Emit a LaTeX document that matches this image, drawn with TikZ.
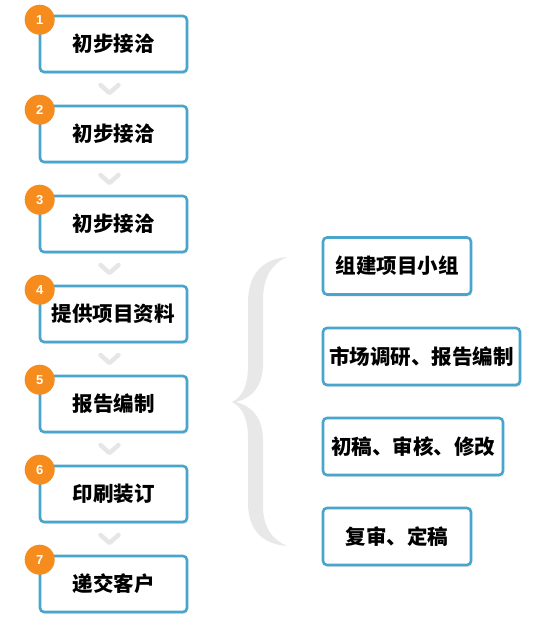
\documentclass[tikz,border=0pt]{standalone}
\usepackage{fontspec}
\newfontfamily\cjk{Noto Sans CJK SC}
\usetikzlibrary{shadows,calc}
\definecolor{boxblue}{RGB}{74,165,205}
\definecolor{numorange}{RGB}{246,140,30}
\definecolor{chev}{RGB}{230,230,230}
\definecolor{bracegray}{RGB}{232,232,232}
\tikzset{
  x=1pt,y=-1pt,
  stepbox/.style={draw=boxblue, line width=2.6pt, rounded corners=4pt, fill=white,
    drop shadow={opacity=0.18, shadow xshift=1pt, shadow yshift=-2pt},
    inner sep=0pt, font=\cjk\bfseries\fontsize{20.5}{24}\selectfont, text=black},
  numcirc/.style={circle, fill=numorange, minimum size=30pt, inner sep=0pt,
    text=white, font=\fontspec{Liberation Sans}\bfseries\fontsize{13}{14}\selectfont},
  chevline/.style={draw=chev, line width=4.5pt, line cap=round, line join=round},
}
\begin{document}
\begin{tikzpicture}
\useasboundingbox (0,0) rectangle (537,638);
% left column boxes
\foreach \i/\t in {1/初步接洽,2/初步接洽,3/初步接洽,4/提供项目资料,5/报告编制,6/印刷装订,7/递交客户}{
  \pgfmathsetmacro{\yc}{44+90*(\i-1)}
  \node[stepbox, minimum width=147pt, minimum height=56pt] (b\i) at (113.5,\yc) {\t};
}
% chevrons between boxes
\foreach \i [evaluate=\i as \j using int(\i+1)] in {1,...,6}{
  \coordinate (m\i) at ($(b\i.south)!0.5!(b\j.north)+(-4,0)$);
  \draw[chevline] ($(m\i)+(-9,-4)$) -- ($(m\i)+(0,4)$) -- ($(m\i)+(9,-4)$);
}
% number circles
\foreach \i in {1,...,7}{
  \node[numcirc] (n\i) at ($(b\i.north west)+(1,5)$) {\i};
}
% brace
\fill[bracegray] (287,257) .. controls (264,259) and (249,272) .. (248,300)
  -- (248,366) .. controls (248,386) and (242,397) .. (232,402)
  .. controls (242,407) and (248,418) .. (248,438)
  -- (248,505) .. controls (249,532) and (264,544) .. (287,546)
  .. controls (272,539) and (263,528) .. (263,505)
  -- (263,440) .. controls (263,418) and (252,406) .. (236,402)
  .. controls (252,398) and (263,386) .. (263,364)
  -- (263,300) .. controls (263,277) and (272,264) .. (287,257) -- cycle;
% right column boxes
\node[stepbox, minimum width=148pt, minimum height=57pt] (r1) at (397,266) {组建项目小组};
\node[stepbox, minimum width=197pt, minimum height=57pt] (r2) at (421.5,356.5) {市场调研、报告编制};
\node[stepbox, minimum width=180pt, minimum height=57pt] (r3) at (413,446.5) {初稿、审核、修改};
\node[stepbox, minimum width=148pt, minimum height=57pt] (r4) at (397,536.5) {复审、定稿};
\end{tikzpicture}
\end{document}
